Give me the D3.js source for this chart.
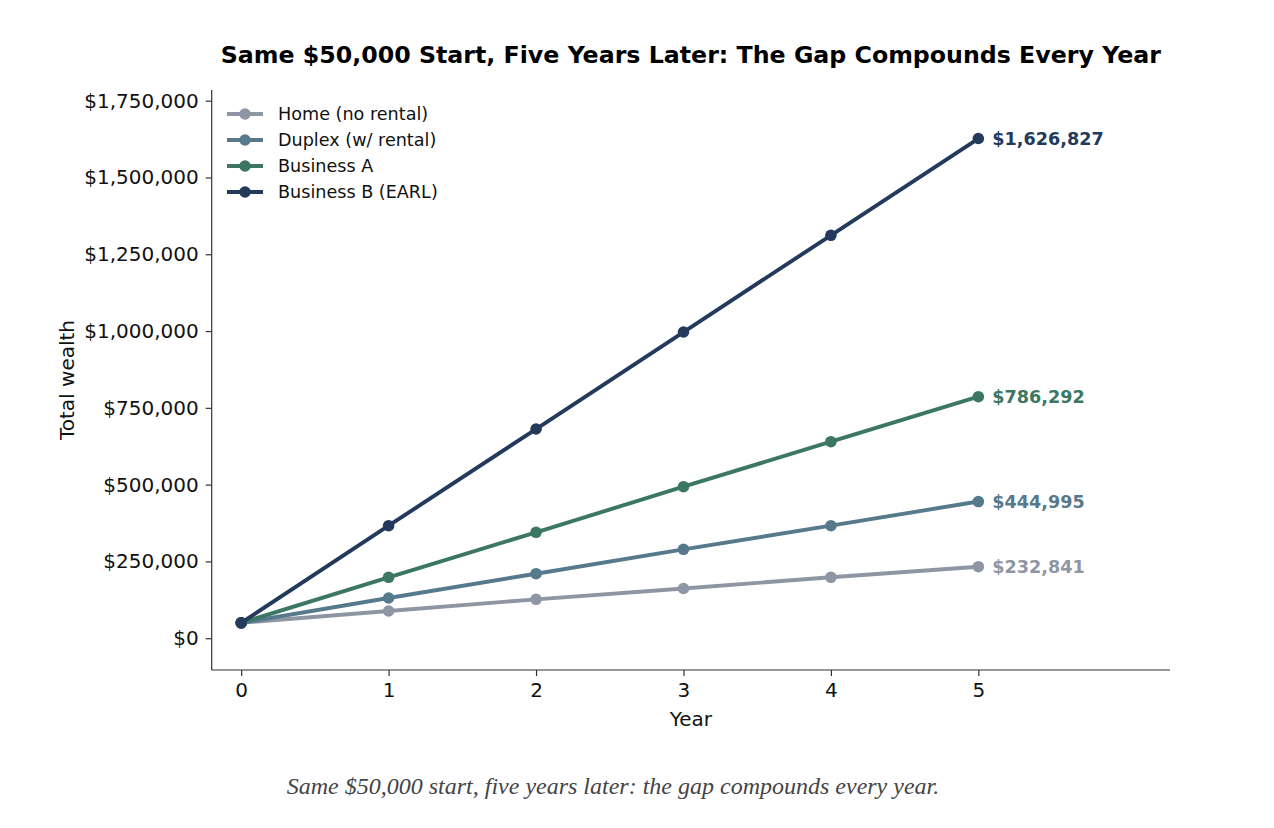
<!DOCTYPE html>
<html>
<head>
<meta charset="utf-8">
<script src="https://cdn.jsdelivr.net/npm/d3@7"></script>
<style>
  body { margin: 0; background: #fff; }
  svg { display: block; }
</style>
</head>
<body>
<svg id="chart" width="1274" height="828"></svg>
<script>
const years = [0, 1, 2, 3, 4, 5];
const seriesNames = ["Home (no rental)", "Duplex (w/ rental)", "Business A", "Business B (EARL)"];
const homeValues = [50000, 88600, 126600, 161800, 198300, 232841];
const duplexValues = [50000, 130900, 210000, 289400, 366300, 444995];
const businessAValues = [50000, 198300, 344800, 493200, 639700, 786292];
const businessBValues = [50000, 366300, 681100, 996900, 1311700, 1626827];
const seriesColors = ["#8E96A3", "#567A8B", "#3B7762", "#233A5C"];
const yTickValues = [0, 250000, 500000, 750000, 1000000, 1250000, 1500000, 1750000];
const xTickValues = [0, 1, 2, 3, 4, 5];
const titleText = "Same $50,000 Start, Five Years Later: The Gap Compounds Every Year";
const captionText = "Same $50,000 start, five years later: the gap compounds every year.";
const xLabel = "Year";
const yLabel = "Total wealth";

const allValues = [homeValues, duplexValues, businessAValues, businessBValues];
const series = seriesNames.map((name, i) => ({
  name, color: seriesColors[i],
  points: years.map((yr, j) => ({ x: yr, v: allValues[i][j] }))
}));

const svg = d3.select("#chart");
const mLeft = 211.7, mRight = 1170, mTop = 90, mBottom = 670;

const x = d3.scaleLinear().domain([-0.2, 6.3]).range([mLeft, mRight]);
const y = d3.scaleLinear().domain([-103500, 1784800]).range([mBottom, mTop]);

const fmt = d3.format(",");
const money = v => "$" + fmt(v);

// Title
svg.append("text")
  .attr("x", (mLeft + mRight) / 2).attr("y", 63)
  .attr("text-anchor", "middle")
  .attr("font-family", "DejaVu Sans")
  .attr("font-weight", "bold")
  .attr("font-size", 23.7)
  .attr("fill", "#000")
  .text(titleText);

// Axes
const xAxis = d3.axisBottom(x).tickValues(xTickValues).tickFormat(d3.format("d")).tickSizeOuter(0).tickSize(6).tickPadding(7);
const yAxis = d3.axisLeft(y).tickValues(yTickValues).tickFormat(money).tickSizeOuter(0).tickSize(6).tickPadding(7);

const gx = svg.append("g").attr("transform", `translate(0,${mBottom})`).call(xAxis);
const gy = svg.append("g").attr("transform", `translate(${mLeft},0)`).call(yAxis);

[gx, gy].forEach(g => {
  g.select(".domain").attr("stroke", "#333").attr("stroke-width", 1.2);
  g.selectAll(".tick line").attr("stroke", "#333").attr("stroke-width", 1.2);
  g.selectAll(".tick text")
    .attr("font-family", "DejaVu Sans")
    .attr("font-size", 20)
    .attr("fill", "#111");
});
gx.select(".domain").attr("d", `M${mLeft},0H${mRight}`);
gy.select(".domain").attr("d", `M0,${mTop}V${mBottom}`);

// Axis labels
svg.append("text")
  .attr("x", (mLeft + mRight) / 2).attr("y", 726)
  .attr("text-anchor", "middle")
  .attr("font-family", "DejaVu Sans")
  .attr("font-size", 20)
  .attr("fill", "#111")
  .text(xLabel);

svg.append("text")
  .attr("transform", `translate(74,${(mTop + mBottom) / 2}) rotate(-90)`)
  .attr("text-anchor", "middle")
  .attr("font-family", "DejaVu Sans")
  .attr("font-size", 20)
  .attr("fill", "#111")
  .text(yLabel);

// Lines
const line = d3.line().x(d => x(d.x)).y(d => y(d.v));
const sg = svg.append("g").selectAll("g").data(series).join("g");
sg.append("path")
  .attr("d", d => line(d.points))
  .attr("fill", "none")
  .attr("stroke", d => d.color)
  .attr("stroke-width", 3.9)
  .attr("stroke-linejoin", "round")
  .attr("stroke-linecap", "butt");
sg.selectAll("circle").data(d => d.points.map(p => ({ ...p, color: d.color })))
  .join("circle")
  .attr("cx", d => x(d.x)).attr("cy", d => y(d.v))
  .attr("r", 5.8)
  .attr("fill", d => d.color);

// End labels
sg.append("text")
  .attr("x", d => x(d.points[d.points.length - 1].x) + 14)
  .attr("y", d => y(d.points[d.points.length - 1].v))
  .attr("dy", "0.35em")
  .attr("font-family", "DejaVu Sans")
  .attr("font-weight", "bold")
  .attr("font-size", 17.6)
  .attr("fill", d => d.color)
  .text(d => money(d.points[d.points.length - 1].v));

// Legend
const lg = svg.append("g").selectAll("g").data(series).join("g")
  .attr("transform", (d, i) => `translate(227,${114 + i * 26})`);
lg.append("line").attr("x1", 0).attr("x2", 36).attr("y1", 0).attr("y2", 0)
  .attr("stroke", d => d.color).attr("stroke-width", 3.9);
lg.append("circle").attr("cx", 18).attr("cy", 0).attr("r", 5.8).attr("fill", d => d.color);
lg.append("text").attr("x", 51).attr("y", 0).attr("dy", "0.35em")
  .attr("font-family", "DejaVu Sans").attr("font-size", 17.6).attr("fill", "#111")
  .text(d => d.name);

// Caption
svg.append("text")
  .attr("x", 613).attr("y", 794)
  .attr("text-anchor", "middle")
  .attr("font-family", "Liberation Serif")
  .attr("font-style", "italic")
  .attr("font-size", 24)
  .attr("fill", "#444")
  .text(captionText);
</script>
</body>
</html>
